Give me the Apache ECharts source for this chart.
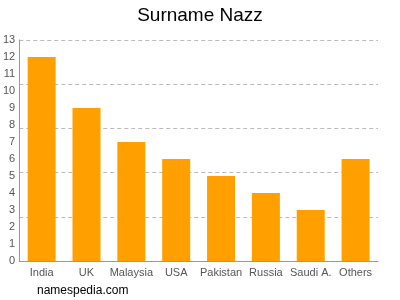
<!DOCTYPE html>
<html><head><meta charset="utf-8">
<script src="https://cdn.jsdelivr.net/npm/echarts@6/dist/echarts.min.js"></script>
<style>html,body{margin:0;padding:0;background:#fff}#c{width:400px;height:300px}</style>
</head><body><div id="c"></div>
<script>
var categories = ["India", "UK", "Malaysia", "USA", "Pakistan", "Russia", "Saudi A.", "Others"];
var values = [12, 9, 7, 6, 5, 4, 3, 6];
var titleText = "Surname Nazz";
var footerText = "namespedia.com";
var chart = echarts.init(document.getElementById('c'), null, {renderer: 'canvas'});
chart.setOption({
  animation: false,
  title: {text: titleText, left: 'center', top: 1, textStyle: {fontFamily: 'Liberation Sans, Arial', fontSize: 19, fontWeight: 'normal', color: '#000'}},
  graphic: [{type: 'text', left: 37, top: 285, style: {text: footerText, fontFamily: 'Liberation Sans, Arial', fontSize: 12, fill: '#000'}}],
  grid: {left: 18, right: 22, top: 40, bottom: 39, containLabel: false},
  xAxis: {type: 'category', data: categories,
    axisLine: {lineStyle: {color: '#999'}},
    axisTick: {alignWithLabel: true, length: 3, lineStyle: {color: '#999'}},
    axisLabel: {color: '#555', fontFamily: 'Liberation Sans, Arial', fontSize: 11, margin: 6, interval: 0}},
  yAxis: [{type: 'value', min: 0, max: 13, interval: 1,
    axisLine: {show: true, lineStyle: {color: '#999'}},
    axisTick: {show: false},
    splitLine: {show: false},
    axisLabel: {color: '#555', fontFamily: 'Liberation Sans, Arial', fontSize: 11, margin: 4}},
    {type: 'value', min: 0, max: 13, interval: 2.6, position: 'left',
    axisLine: {show: false}, axisTick: {show: false}, axisLabel: {show: false},
    splitLine: {show: true, lineStyle: {color: '#bbb', type: [4, 3], width: 1}}}],
  series: [{type: 'bar', data: values, barWidth: 28, itemStyle: {color: '#ffa000'}}]
});
</script></body></html>
